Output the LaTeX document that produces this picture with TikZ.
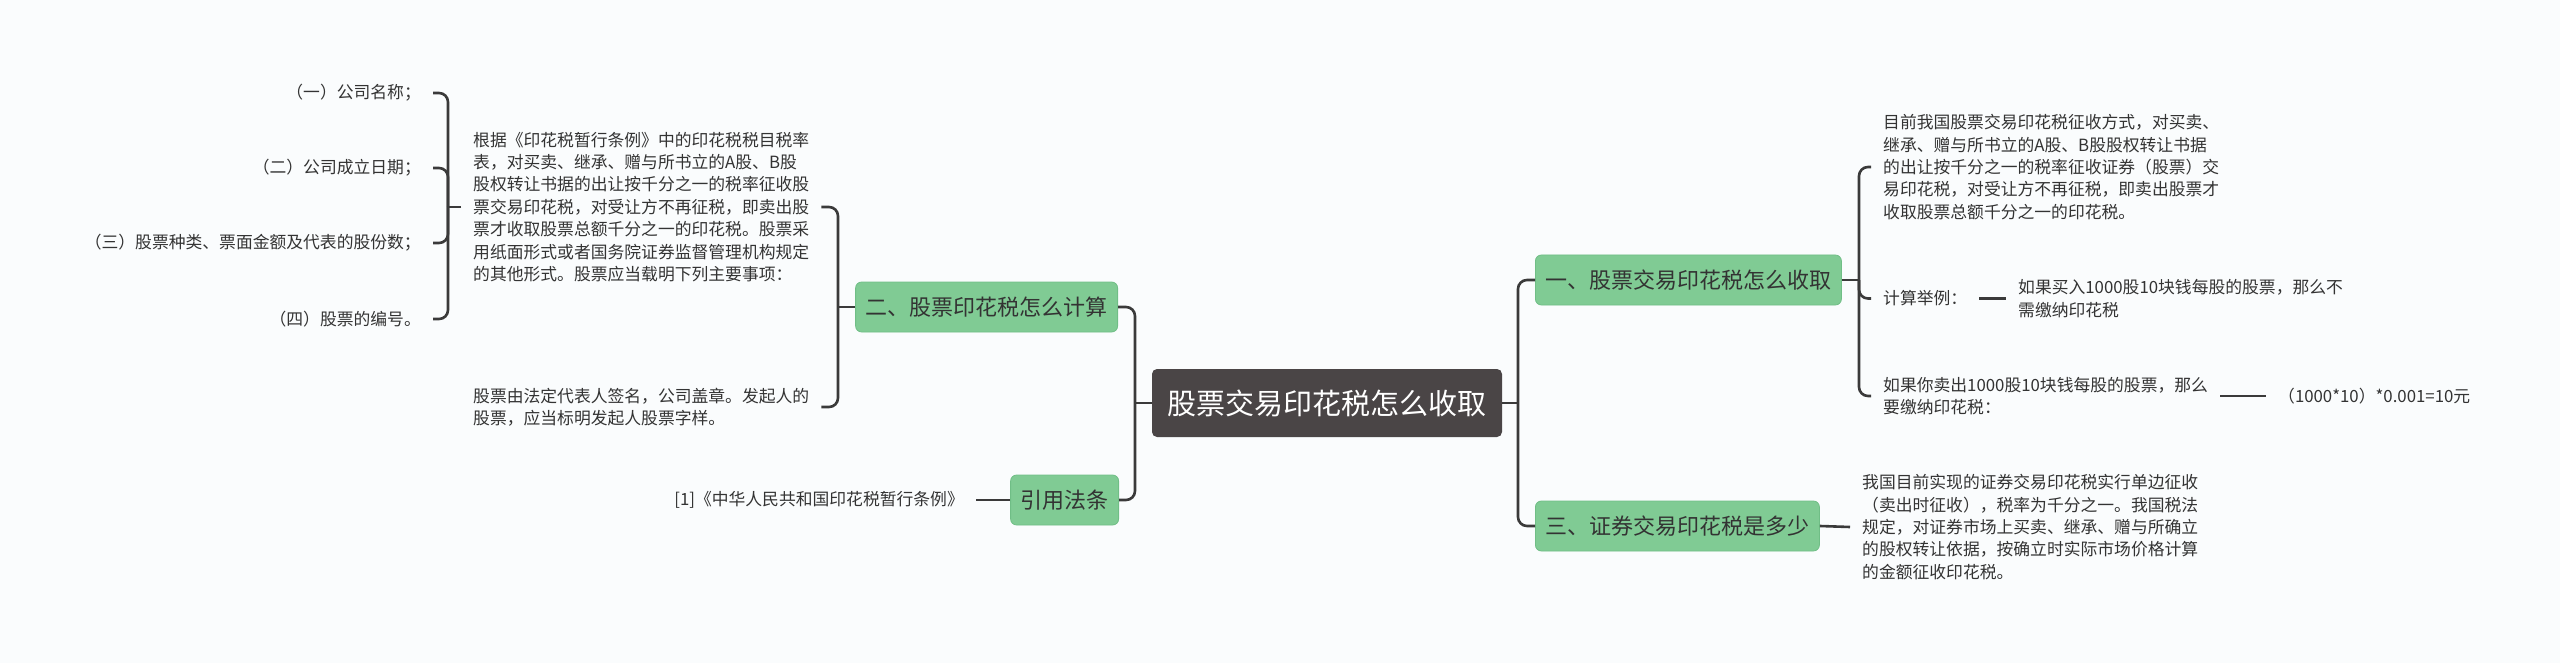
\documentclass[tikz,border=0pt]{standalone}
\usepackage{fontspec}
\setmainfont{Noto Sans CJK SC}
\definecolor{bg}{RGB}{250,252,253}
\definecolor{lnk}{RGB}{58,58,58}
\definecolor{gfill}{RGB}{128,203,148}
\definecolor{gdraw}{RGB}{112,190,134}
\definecolor{cfill}{RGB}{74,69,70}
\definecolor{tx}{RGB}{51,51,51}
\begin{document}
\begin{tikzpicture}[x=1pt,y=-1pt,
  conn/.style={draw=lnk,line width=2.6pt,rounded corners=9pt},
  root/.style={fill=cfill,rounded corners=5pt,text=white,font=\fontsize{29}{34}\selectfont,minimum height=68pt,inner xsep=15.5pt,inner ysep=0pt},
  topic/.style={fill=gfill,draw=gdraw,line width=0.8pt,rounded corners=6pt,text=tx,font=\fontsize{22}{26}\selectfont,minimum height=50pt,inner xsep=10pt,inner ysep=0pt},
  leaf/.style={text=tx,font=\fontsize{16.8}{22.4}\selectfont,align=left,inner xsep=12pt,inner ysep=2pt},
]
\useasboundingbox (0,0) rectangle (2560,663);
\fill[bg] (0,0) rectangle (2560,663);

% main nodes
\node[root] (root) at (1327,403) {股票交易印花税怎么收取};
\node[topic,anchor=east] (er) at (1118,307) {二、股票印花税怎么计算};
\node[topic,anchor=east] (yy) at (1119,500) {引用法条};
\node[topic,anchor=west] (yi) at (1535,280) {一、股票交易印花税怎么收取};
\node[topic,anchor=west] (san) at (1535,526) {三、证券交易印花税是多少};

% left leaves
\node[leaf,anchor=west] (gen) at (461,207) {根据《印花税暂行条例》中的印花税税目税率\\表，对买卖、继承、赠与所书立的A股、B股\\股权转让书据的出让按千分之一的税率征收股\\票交易印花税，对受让方不再征税，即卖出股\\票才收取股票总额千分之一的印花税。股票采\\用纸面形式或者国务院证券监督管理机构规定\\的其他形式。股票应当载明下列主要事项：};
\node[leaf,anchor=west] (gen2) at (461,407) {股票由法定代表人签名，公司盖章。发起人的\\股票，应当标明发起人股票字样。};
\node[leaf,anchor=east] (n1) at (433,93) {（一）公司名称；};
\node[leaf,anchor=east] (n2) at (433,168) {（二）公司成立日期；};
\node[leaf,anchor=east] (n3) at (433,243) {（三）股票种类、票面金额及代表的股份数；};
\node[leaf,anchor=east] (n4) at (433,319) {（四）股票的编号。};
\node[leaf,anchor=east] (law) at (976,500) {[1]《中华人民共和国印花税暂行条例》};

% right leaves
\node[leaf,anchor=west] (r1) at (1871,167) {目前我国股票交易印花税征收方式，对买卖、\\继承、赠与所书立的A股、B股股权转让书据\\的出让按千分之一的税率征收证券（股票）交\\易印花税，对受让方不再征税，即卖出股票才\\收取股票总额千分之一的印花税。};
\node[leaf,anchor=west] (r2) at (1871,298.5) {计算举例：};
\node[leaf,anchor=west] (r2a) at (2006,298.5) {如果买入1000股10块钱每股的股票，那么不\\需缴纳印花税};
\node[leaf,anchor=west] (r3) at (1871,396) {如果你卖出1000股10块钱每股的股票，那么\\要缴纳印花税：};
\node[leaf,anchor=west] (r3a) at (2266,396) {（1000*10）*0.001=10元};
\node[leaf,anchor=west] (r4) at (1850,527) {我国目前实现的证券交易印花税实行单边征收\\（卖出时征收），税率为千分之一。我国税法\\规定，对证券市场上买卖、继承、赠与所确立\\的股权转让依据，按确立时实际市场价格计算\\的金额征收印花税。};

% junctions
\coordinate (jl) at (1135,403);
\coordinate (jr) at (1518,403);
\coordinate (j2) at (838,307);
\coordinate (jk) at (448,207);
\coordinate (j1) at (1859,280);

% connectors
\draw[conn] (root.west) -- (jl);
\draw[conn] (er.east) -| (jl) |- (yy.east);
\draw[conn] (root.east) -- (jr);
\draw[conn] (yi.west) -| (jr) |- (san.west);
\draw[conn] (er.west) -- (j2);
\draw[conn] (gen.east) -| (j2) |- (gen2.east);
\draw[conn] (gen.west) -- (jk);
\draw[conn] (n1.east) -| (jk) |- (n4.east);
\draw[conn] (n2.east) -| (jk);
\draw[conn] (n3.east) -| (jk);
\draw[conn] (yy.west) -- (law.east);
\draw[conn] (yi.east) -- (j1);
\draw[conn] (r1.west) -| (j1) |- (r3.west);
\draw[conn] (r2.west) -| (j1);
\draw[conn] (r2.east) -- (r2a.west);
\draw[conn] (r3.east) -- (r3a.west);
\draw[conn] (san.east) -- (r4.west);
\end{tikzpicture}
\end{document}
